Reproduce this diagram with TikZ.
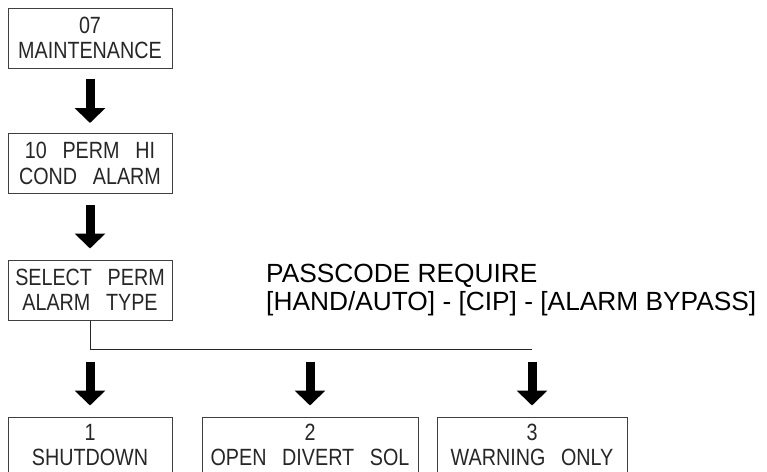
\documentclass[tikz,border=0pt]{standalone}
\usepackage{fontspec}
\setmainfont{Liberation Sans}
\newfontfamily\cadfont[FakeStretch=0.84]{Liberation Sans}
\usetikzlibrary{arrows.meta}

\tikzset{
  menubox/.style={draw=black!75, line width=1pt, inner sep=0pt,
    minimum height=60pt, align=center, text=black!85,
    font=\cadfont\fontsize{23.5pt}{25.5pt}\selectfont},
  optbox/.style={menubox, minimum height=56pt},
  bigarrow/.style={line width=9pt,
    -{Triangle[width=30pt,length=15pt]}},
  bus/.style={line width=0.8pt, draw=black!85},
  note/.style={inner sep=0pt, anchor=base west,
    font=\fontsize{26.3pt}{28pt}\selectfont}
}

\begin{document}
\begin{tikzpicture}[x=1pt, y=-1pt]
  \useasboundingbox (0,0) rectangle (767,471);
  \clip (0,0) rectangle (767,471);

  % menu chain
  \node[menubox, minimum width=164pt, text width=164pt] (b1) at (90,38) {07\\MAINTENANCE};
  \node[menubox, minimum width=164pt, text width=164pt] (b2) at (90,163.5) {10\ \ PERM\ \ HI\\COND\ \ ALARM};
  \node[menubox, minimum width=164pt, text width=164pt] (b3) at (90,290) {SELECT\ \ PERM\\ALARM\ \ TYPE};

  % option boxes (their lower edge lies below the page)
  \node[optbox, minimum width=164pt, text width=164pt] (b4) at (90,445) {1\\SHUTDOWN};
  \node[optbox, minimum width=216pt, text width=216pt] (b5) at (310,445) {2\\OPEN\ \ DIVERT\ \ SOL};
  \node[optbox, minimum width=190pt, text width=190pt] (b6) at (532,445) {3\\WARNING\ \ ONLY};

  % passcode note
  \node[note] (p1) at (266,282) {PASSCODE REQUIRE};
  \node[note] (p2) at (266,310) {[HAND/AUTO] - [CIP] - [ALARM BYPASS]};

  % arrows down the chain
  \draw[bigarrow, shorten <=10pt, shorten >=10pt] (b1.south) -- (b2.north);
  \draw[bigarrow, shorten <=11pt, shorten >=11pt] (b2.south) -- (b3.north);

  % branch bus
  \coordinate (j1) at (b3.south |- 0,349);
  \coordinate (j2) at (b5.north |- 0,349);
  \coordinate (j3) at (b6.north |- 0,349);
  \draw[bus] (b3.south) -- (j1) -- (j3);

  % arrows to the options
  \draw[bigarrow, shorten <=13pt, shorten >=11pt] (j1) -- (b4.north);
  \draw[bigarrow, shorten <=13pt, shorten >=11pt] (j2) -- (b5.north);
  \draw[bigarrow, shorten <=13pt, shorten >=11pt] (j3) -- (b6.north);
\end{tikzpicture}
\end{document}
